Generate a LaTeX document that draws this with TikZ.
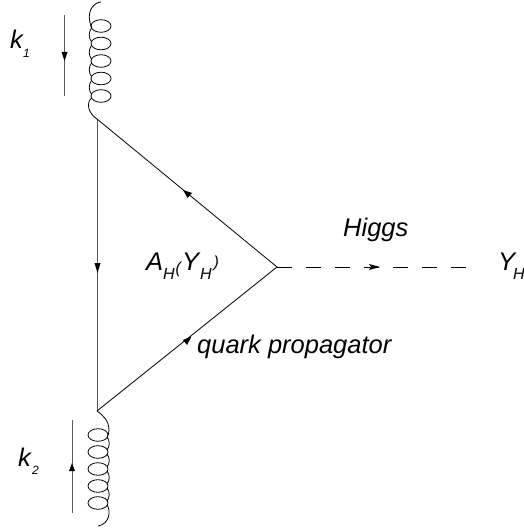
\documentclass[tikz,border=0pt]{standalone}
\usepackage{fontspec}
\setmainfont{Liberation Sans}
\usetikzlibrary{arrows.meta}
\tikzset{
  lbl/.style={inner sep=0pt,font=\itshape\fontsize{25.5}{28}\selectfont,anchor=base west},
  sub/.style={inner sep=0pt,font=\itshape\fontsize{16}{18}\selectfont,anchor=base west},
  smallsub/.style={inner sep=0pt,font=\itshape\fontsize{12}{14}\selectfont,anchor=base west},
  fermion/.style={line width=0.8pt,black},
  mom/.style={line width=1pt,black!65},
  gluon/.style={line width=0.8pt,black},
  tip/.style={fill=black,draw=none}
}
\begin{document}
\begin{tikzpicture}[x=1pt,y=-1pt]
\useasboundingbox (0,0) rectangle (523,529);
\coordinate (T) at (97,119);
\coordinate (B) at (97,411);
\coordinate (R) at (277,267);
\coordinate (E) at (468,267);
\draw[mom] (B) -- (T);
\draw[fermion] (T) -- (R) -- (B);
\draw[line width=0.8pt,black,dash pattern=on 15pt off 14pt] (R) -- (E);
% fermion arrowheads
\fill[tip] (97.5,273) -- (94.5,263) -- (100.5,263) -- cycle;
\fill[tip] (183,190) -- (192,193) -- (187.5,198) -- cycle;
\fill[tip] (191.5,336.5) -- (183,340) -- (187,345) -- cycle;
\fill[tip] (380,267) -- (369,264) -- (371,267) -- (369,270) -- cycle;
% momentum arrows
\coordinate (K1a) at (64.5,15); \coordinate (K1b) at (64.5,96);
\coordinate (K2a) at (72,513); \coordinate (K2b) at (72,420);
\draw[mom] (K1a) -- (K1b);
\draw[mom] (K2a) -- (K2b);
\fill[tip] (64.5,61) -- (61.5,52) -- (67.5,52) -- cycle;
\fill[tip] (72,463) -- (69,471) -- (75,471) -- cycle;
% gluon top
\draw[gluon] (101,2) .. controls (94,2.5) and (88,10) .. (89.5,20)
  .. controls (90,23) and (91,26) .. (91.5,28);
\foreach \c in {26,43.5,61,78.5,96}{
  \draw[gluon] (101,\c) ellipse [x radius=10,y radius=6.3];
}
\foreach \c in {26,43.5,61,78.5}{
  \draw[gluon] (91.5,\c+2) .. controls (88.5,\c+6) and (88.5,\c+12) .. (91.5,\c+15.5);
}
\draw[gluon] (91.5,98) .. controls (86,103) and (88,113) .. (T);
% gluon bottom
\draw[gluon] (B) .. controls (103,415) and (109,421) .. (109,430)
  .. controls (109,432) and (108.5,434) .. (107.5,437);
\foreach \c in {435,452,469,486,503}{
  \draw[gluon] (98,\c) ellipse [x radius=10,y radius=6.3];
}
\foreach \c in {435,452,469,486}{
  \draw[gluon] (107,\c+2) .. controls (110,\c+6) and (110,\c+11) .. (107,\c+15);
}
\draw[gluon] (107,505) .. controls (111,510) and (110,524) .. (98,526);
% labels
\node[lbl] (k1) at (10,49) {k};
\node[smallsub] (k1s) at (23,58) {1};
\node[lbl] (k2) at (18,466) {k};
\node[smallsub] (k2s) at (32,474) {2};
\node[lbl] (a) at (146,270) {A};
\node[sub] (as) at (163,279) {H};
\node[sub] (ap) at (175.5,273) {(};
\node[lbl] (ab) at (182,270) {Y};
\node[sub] (bs) at (200,279) {H};
\node[sub] (abc) at (213.5,267) {)};
\node[lbl] (h) at (343,236) {Higgs};
\node[lbl] (y) at (498,270) {Y};
\node[sub] (ys) at (513,279) {H};
\node[lbl] (q) at (197,353) {quark propagator};
\end{tikzpicture}
\end{document}
